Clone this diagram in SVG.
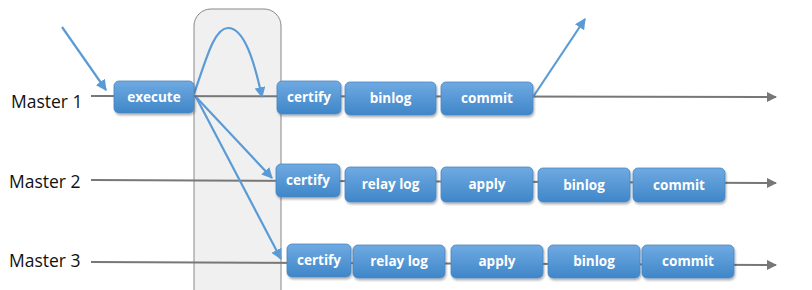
<svg xmlns="http://www.w3.org/2000/svg" width="812" height="290" viewBox="0 0 812 290">
<defs>
<linearGradient id="bg" x1="0" y1="0" x2="0" y2="1">
<stop offset="0" stop-color="#6faae2"/>
<stop offset="1" stop-color="#3f86c8"/>
</linearGradient>
<filter id="sh" x="-10%" y="-10%" width="120%" height="140%">
<feDropShadow dx="1" dy="2" stdDeviation="1.2" flood-color="#000" flood-opacity="0.3"/>
</filter>
<marker id="ga" viewBox="0 0 10 10" refX="9" refY="5" markerWidth="5" markerHeight="5" orient="auto">
<path d="M0,0 L10,5 L0,10 z" fill="#777"/>
</marker>
<marker id="ba" viewBox="0 0 10 10" refX="9" refY="5" markerWidth="5" markerHeight="5" orient="auto">
<path d="M0,0 L10,5 L0,10 z" fill="#5b9bd5"/>
</marker>
</defs>
<style>
.lbl{font-family:"Open Sans","Liberation Sans",sans-serif;font-size:17.5px;fill:#111}
.box rect{fill:url(#bg);stroke:#4a87c0;stroke-width:0.8;filter:url(#sh)}
.box text{font-family:"Open Sans","Liberation Sans",sans-serif;font-size:13.5px;font-weight:bold;fill:#fff;text-anchor:middle}
.tl{stroke:#777;stroke-width:2;fill:none}
.bl{stroke:#5b9bd5;stroke-width:2.2;fill:none}
</style>
<rect id="zone" x="194" y="9" width="87" height="310" rx="17" fill="#f0f0f0" stroke="#888" stroke-width="1"/>
<text class="lbl" x="11" y="108">Master 1</text>
<text class="lbl" x="9" y="188">Master 2</text>
<text class="lbl" x="9" y="267">Master 3</text>
<g id="connectors">
<line class="tl" x1="91" y1="96" x2="776" y2="97" marker-end="url(#ga)"/>
<line class="tl" x1="91" y1="180" x2="776" y2="183" marker-end="url(#ga)"/>
<line class="tl" x1="91" y1="262" x2="776" y2="265" marker-end="url(#ga)"/>
<line class="bl" x1="62" y1="27" x2="106" y2="90" marker-end="url(#ba)"/>
<path class="bl" d="M194,94 C206,60 214,28 228,28 C244,28 254,60 262,97" marker-end="url(#ba)"/>
<line class="bl" x1="196" y1="97" x2="272" y2="178" marker-end="url(#ba)"/>
<line class="bl" x1="196" y1="97" x2="281" y2="259" marker-end="url(#ba)"/>
<line class="bl" x1="533" y1="97" x2="585" y2="19" marker-end="url(#ba)"/>
</g>
<g id="m1-execute" class="box"><rect x="114" y="81" width="80" height="32" rx="5"/><text x="154" y="102">execute</text></g>
<g id="m1-certify" class="box"><rect x="277" y="81" width="64" height="33" rx="5"/><text x="309" y="102">certify</text></g>
<g id="m1-binlog" class="box"><rect x="345" y="82" width="91" height="33" rx="5"/><text x="390.5" y="103">binlog</text></g>
<g id="m1-commit" class="box"><rect x="441" y="82" width="92" height="33" rx="5"/><text x="487" y="103">commit</text></g>
<g id="m2-certify" class="box"><rect x="276" y="164" width="64" height="33" rx="5"/><text x="308" y="185">certify</text></g>
<g id="m2-relaylog" class="box"><rect x="345" y="167" width="91" height="35" rx="5"/><text x="390.5" y="189">relay log</text></g>
<g id="m2-apply" class="box"><rect x="441" y="167" width="92" height="35" rx="5"/><text x="487" y="189">apply</text></g>
<g id="m2-binlog" class="box"><rect x="538" y="168" width="92" height="34" rx="5"/><text x="584" y="190">binlog</text></g>
<g id="m2-commit" class="box"><rect x="633" y="168" width="92" height="34" rx="5"/><text x="679" y="190">commit</text></g>
<g id="m3-certify" class="box"><rect x="287" y="244" width="64" height="33" rx="5"/><text x="319" y="265">certify</text></g>
<g id="m3-relaylog" class="box"><rect x="353" y="245" width="92" height="33" rx="5"/><text x="399" y="266">relay log</text></g>
<g id="m3-apply" class="box"><rect x="451" y="245" width="92" height="33" rx="5"/><text x="497" y="266">apply</text></g>
<g id="m3-binlog" class="box"><rect x="548" y="245" width="92" height="33" rx="5"/><text x="594" y="266">binlog</text></g>
<g id="m3-commit" class="box"><rect x="642" y="245" width="92" height="33" rx="5"/><text x="688" y="266">commit</text></g>
</svg>
